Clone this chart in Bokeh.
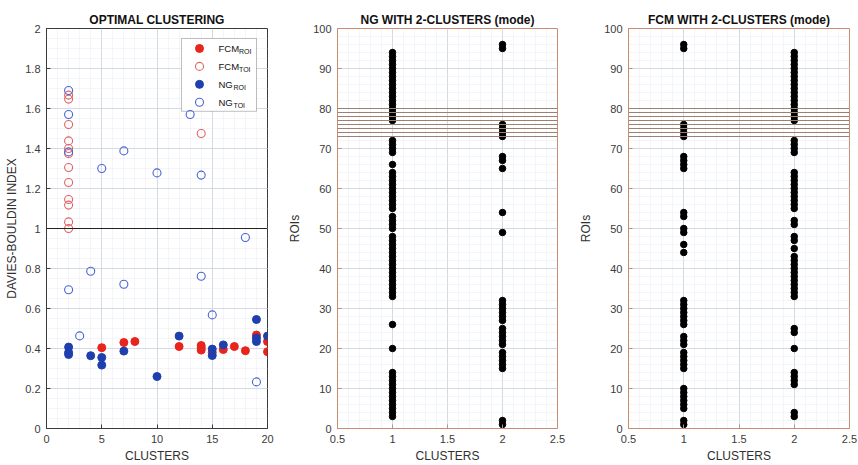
from bokeh.plotting import figure
from bokeh.layouts import row
from bokeh.models import (FixedTicker, CustomJSTickFormatter, Span, Label, Range1d,
                          BoxAnnotation)
from bokeh.embed import file_html
from bokeh.resources import INLINE

# ---------------- data ----------------
# Panel 1: Davies-Bouldin index vs number of clusters
fcm_roi_x = [5, 7, 8, 12, 14, 14, 14, 15, 16, 17, 18, 19, 20, 20]
fcm_roi_y = [0.404, 0.43, 0.435, 0.41, 0.415, 0.404, 0.392, 0.38, 0.395, 0.41, 0.389, 0.467, 0.435, 0.384]

fcm_toi_x = [2, 2, 2, 2, 2, 2, 2, 2, 2, 2, 2, 2, 14]
fcm_toi_y = [1.667, 1.647, 1.52, 1.438, 1.40, 1.375, 1.305, 1.23, 1.145, 1.117, 1.033, 1.0, 1.475]

ng_roi_x = [2, 2, 2, 4, 5, 5, 7, 10, 12, 15, 15, 16, 19, 19, 19, 20]
ng_roi_y = [0.407, 0.38, 0.37, 0.364, 0.355, 0.317, 0.387, 0.26, 0.462, 0.397, 0.365, 0.418, 0.545, 0.452, 0.435, 0.462]

ng_toi_x = [2, 2, 2, 5, 7, 10, 13, 14, 2, 3, 4, 7, 14, 15, 18, 19]
ng_toi_y = [1.69, 1.57, 1.383, 1.30, 1.388, 1.278, 1.57, 1.267, 0.694, 0.463, 0.786, 0.721, 0.761, 0.568, 0.955, 0.233]

threshold_db = 1.0

series_names = ["FCM", "FCM", "NG", "NG"]
series_subs = ["ROI", "TOI", "ROI", "TOI"]

# Panels 2 and 3: ROI membership with 2 clusters
ng_cluster1_rois = [3, 4, 5, 6, 7, 8, 9, 10, 11, 12, 13, 14, 20, 26,
                    33, 34, 35, 36, 37, 38, 39, 40, 41, 42, 43, 44, 45, 46, 47, 48,
                    50, 51, 52, 53, 55, 56, 57, 58, 59, 60, 61, 62, 63, 64, 66,
                    69, 70, 71, 72, 77, 78, 79, 80, 81, 82, 83, 84, 85, 86, 87, 88,
                    89, 90, 91, 92, 93, 94]
ng_cluster2_rois = [1, 2, 15, 16, 17, 18, 19, 21, 22, 23, 24, 25, 27, 28, 29, 30, 31, 32,
                    49, 54, 65, 67, 68, 73, 74, 75, 76, 95, 96]

fcm_cluster1_rois = [1, 2, 5, 6, 7, 8, 9, 10, 15, 16, 17, 18, 19, 21, 22, 23,
                     26, 27, 28, 29, 30, 31, 32, 44, 46, 49, 50, 53, 54,
                     65, 66, 67, 68, 73, 74, 75, 76, 95, 96]
fcm_cluster2_rois = [3, 4, 11, 12, 13, 14, 20, 24, 25, 33, 34, 35, 36, 37, 38, 39, 40,
                     41, 42, 43, 45, 47, 48, 51, 52, 55, 56, 57, 58, 59, 60, 61, 62,
                     63, 64, 69, 70, 71, 72, 77, 78, 79, 80, 81, 82, 83, 84, 85, 86,
                     87, 88, 89, 90, 91, 92, 93, 94]

band_levels = [73, 74, 75, 76, 77, 78, 79, 80]

x1_ticks = [0, 5, 10, 15, 20]
x1_minor = list(range(0, 21))
y1_ticks = [0, 0.2, 0.4, 0.6, 0.8, 1, 1.2, 1.4, 1.6, 1.8, 2]
y1_minor = [i * 0.05 for i in range(41)]
x2_ticks = [0.5, 1, 1.5, 2, 2.5]
x2_minor = [0.5 + i * 0.1 for i in range(21)]
y2_ticks = [0, 10, 20, 30, 40, 50, 60, 70, 80, 90, 100]
y2_minor = list(range(0, 101, 2))

FONT = "Liberation Sans"
RED = "#e8241c"
BLUE = "#1f3fae"
RED_O = "#e06464"
BLUE_O = "#4a63d6"

fmt = CustomJSTickFormatter(code="return String(Number(tick.toFixed(2)));")

H = 465
TOP = 28
BOTTOM = 36
FRAME_H = H - TOP - BOTTOM


def style(p, xt, xm, yt, ym, outline):
    p.xaxis.ticker = FixedTicker(ticks=xt, minor_ticks=xm)
    p.yaxis.ticker = FixedTicker(ticks=yt, minor_ticks=ym)
    for ax in (p.xaxis[0], p.yaxis[0]):
        ax.formatter = fmt
        ax.major_tick_in = 4
        ax.major_tick_out = 0
        ax.minor_tick_in = 0
        ax.minor_tick_out = 0
        ax.axis_line_color = outline
        ax.major_tick_line_color = outline
        ax.major_label_text_font = FONT
        ax.major_label_text_font_size = "11px"
        ax.major_label_text_color = "#3a3a3a"
        ax.major_label_standoff = 6
        ax.axis_label_text_font = FONT
        ax.axis_label_text_font_size = "12px"
        ax.axis_label_text_font_style = "normal"
        ax.axis_label_text_color = "#303030"
        ax.axis_label_standoff = 3
    for g in (p.xgrid[0], p.ygrid[0]):
        g.grid_line_color = "#d3dae3"
        g.grid_line_width = 1
        g.minor_grid_line_color = "#e6eaf0"
        g.minor_grid_line_dash = "1 1"
    p.outline_line_color = outline
    p.outline_line_width = 1
    p.title.align = "center"
    p.title.text_font = FONT
    p.title.text_font_size = "12px"
    p.title.text_font_style = "bold"
    p.title.text_color = "#111111"
    p.title.standoff = 3
    p.background_fill_color = "white"
    p.border_fill_color = "white"


# ---------------- panel 1 ----------------
L1, W1, R1 = 46, 221, 13
X1_RANGE = (0, 20)
Y1_RANGE = (0, 2)
p1 = figure(width=L1 + W1 + R1, height=H, output_backend="svg", toolbar_location=None,
            x_range=Range1d(*X1_RANGE), y_range=Range1d(*Y1_RANGE), title="OPTIMAL CLUSTERING",
            min_border_left=L1, min_border_right=R1, min_border_top=TOP, min_border_bottom=BOTTOM,
            x_axis_label="CLUSTERS", y_axis_label="DAVIES-BOULDIN INDEX")
style(p1, x1_ticks, x1_minor, y1_ticks, y1_minor, "#3a3a3a")
p1.add_layout(Span(location=threshold_db, dimension="width", line_color="#222222", line_width=1))

styles = [dict(fill_color=RED, line_color=RED),
          dict(fill_color=None, line_color=RED_O, line_width=1.1),
          dict(fill_color=BLUE, line_color=BLUE),
          dict(fill_color=None, line_color=BLUE_O, line_width=1.1)]
series = [(fcm_roi_x, fcm_roi_y), (fcm_toi_x, fcm_toi_y), (ng_roi_x, ng_roi_y), (ng_toi_x, ng_toi_y)]
for (xs, ys), st in zip(series, styles):
    p1.scatter(xs, ys, size=8, **st)


# legend (built by hand so the labels can carry subscripts); layout in frame pixels
def fx(px):
    return X1_RANGE[0] + (X1_RANGE[1] - X1_RANGE[0]) * px / W1


def fy(py):
    return Y1_RANGE[1] - (Y1_RANGE[1] - Y1_RANGE[0]) * py / FRAME_H


LEG_L, LEG_R, LEG_T, LEG_B = 135, 210, 10, 83
p1.add_layout(BoxAnnotation(left=fx(LEG_L), right=fx(LEG_R), top=fy(LEG_T), bottom=fy(LEG_B),
                            fill_color="white", fill_alpha=1, line_color="#303030",
                            line_width=1, level="underlay"))
item_cy = [20, 38, 56, 74]
name_w = {"FCM": 20.0, "NG": 14.5}
for name, sub, st, cy in zip(series_names, series_subs, styles, item_cy):
    p1.scatter([fx(153)], [fy(cy)], size=8, **st)
    p1.add_layout(Label(x=fx(172), y=fy(cy), text=name, text_font=FONT, text_font_size="9.5px",
                        text_color="#111111", text_baseline="middle", text_align="left"))
    p1.add_layout(Label(x=fx(172 + name_w[name] + 0.5), y=fy(cy + 3.5), text=sub, text_font=FONT,
                        text_font_size="7px", text_color="#111111", text_baseline="middle",
                        text_align="left"))


# ---------------- panels 2, 3 ----------------
def roi_panel(title, c1, c2, left, width, right):
    p = figure(width=left + width + right, height=H, output_backend="svg", toolbar_location=None,
               x_range=Range1d(0.5, 2.5), y_range=Range1d(0, 100), title=title,
               min_border_left=left, min_border_right=right, min_border_top=TOP,
               min_border_bottom=BOTTOM, x_axis_label="CLUSTERS", y_axis_label="ROIs")
    style(p, x2_ticks, x2_minor, y2_ticks, y2_minor, "#c98c6e")
    p.yaxis[0].axis_label_standoff = 8
    for lv in band_levels:
        p.add_layout(Span(location=lv, dimension="width", line_color="#9a8174", line_width=1))
    p.scatter([1] * len(c1), c1, size=6.5, fill_color="black", line_color="black")
    p.scatter([2] * len(c2), c2, size=6.5, fill_color="black", line_color="black")
    return p


p2 = roi_panel("NG WITH 2-CLUSTERS (mode)", ng_cluster1_rois, ng_cluster2_rois, 57, 220, 13)
p3 = roi_panel("FCM WITH 2-CLUSTERS (mode)", fcm_cluster1_rois, fcm_cluster2_rois, 58, 221, 9)

layout = row(p1, p2, p3, spacing=0)
open("out.html", "w").write(file_html(layout, INLINE))
